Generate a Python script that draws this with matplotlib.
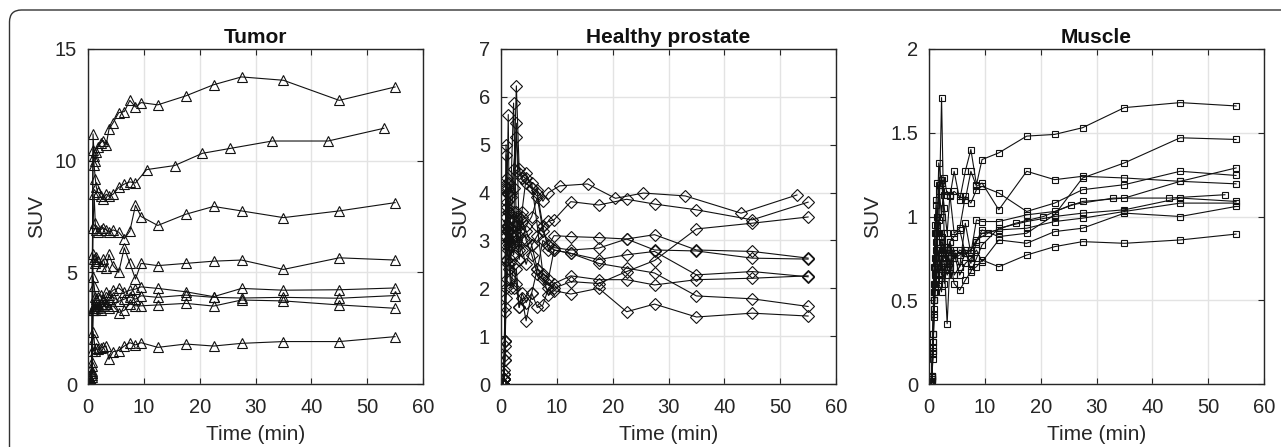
import matplotlib
matplotlib.use("Agg")
import matplotlib.pyplot as plt
from matplotlib.patches import FancyBboxPatch

plt.rcParams['font.family'] = ['Liberation Sans', 'DejaVu Sans']

# frame mid-times (min): main protocol and one shifted protocol
t_main = [0.1, 0.3, 0.5, 0.7, 0.9, 1.1, 1.3, 1.5, 1.75, 2.25, 2.75, 3.25, 3.75,
          4.5, 5.5, 6.5, 7.5, 8.5, 9.5, 12.5, 17.5, 22.5, 27.5, 35, 45, 55]
t_alt = [0.1, 0.3, 0.5, 0.7, 0.9, 1.1, 1.3, 1.5, 1.75, 2.25, 2.75, 3.25, 3.75,
         4.5, 5.5, 6.5, 7.5, 8.5, 10.5, 15.5, 20.5, 25.5, 33, 43, 53]

# Tumor SUV curves
tumor_1 = [0, 0, 0.2, 1.5, 11.2, 10.2, 10.0, 10.4, 10.6, 10.8, 10.9, 10.7, 11.4,
           11.7, 12.15, 12.2, 12.7, 12.4, 12.6, 12.5, 12.9, 13.4, 13.75, 13.6, 12.7, 13.3]
tumor_2 = [0, 0, 0.1, 1.0, 10.5, 9.8, 9.2, 8.8, 8.6, 8.4, 8.3, 8.5, 8.4,
           8.5, 8.8, 8.95, 9.05, 9.0, 9.6, 9.78, 10.33, 10.55, 10.88, 10.88, 11.45]  # t_alt
tumor_3 = [0, 0, 0.1, 0.8, 7.0, 8.5, 7.2, 6.9, 6.8, 6.9, 7.0, 6.9, 6.8,
           6.9, 6.8, 6.5, 6.85, 8.0, 7.5, 7.1, 7.6, 7.95, 7.75, 7.45, 7.75, 8.12]
tumor_4 = [0, 0, 0.1, 0.6, 5.8, 5.6, 5.4, 5.7, 5.5, 5.3, 5.6, 5.2, 5.8,
           5.3, 5.0, 6.1, 5.4, 4.7, 5.4, 5.3, 5.4, 5.5, 5.55, 5.13, 5.65, 5.55]
tumor_5 = [0, 0, 0.1, 0.5, 4.8, 4.4, 3.9, 3.8, 3.9, 4.0, 3.8, 4.1, 4.0,
           4.2, 4.3, 4.1, 4.2, 4.25, 4.35, 4.28, 4.13, 3.91, 4.28, 4.2, 4.22, 4.3]
tumor_6 = [0, 0, 0.05, 0.4, 3.3, 3.5, 3.6, 3.4, 3.5, 3.6, 3.7, 3.6, 3.8,
           3.9, 3.7, 3.8, 3.9, 3.8, 3.95, 3.88, 3.98, 3.88, 3.85, 3.88, 3.84, 3.96]
tumor_7 = [0, 0, 0.1, 0.5, 3.3, 3.4, 3.3, 3.5, 3.4, 3.3, 3.5, 3.6, 3.4,
           3.5, 3.2, 3.3, 3.6, 3.5, 3.5, 3.54, 3.61, 3.49, 3.76, 3.72, 3.54, 3.39]
tumor_8 = [0, 0, 0.05, 0.3, 2.35, 2.0, 1.5, 1.6, 1.55, 1.6, 1.65, 1.7, 1.1,
           1.45, 1.5, 1.7, 1.85, 1.75, 1.85, 1.64, 1.79, 1.7, 1.82, 1.9, 1.9, 2.12]

# Healthy prostate SUV curves
prost_1 = [0, 0, 0.3, 1.6, 4.1, 4.3, 4.0, 3.6, 3.9, 4.5, 5.17, 4.4, 4.3,
           4.4, 4.1, 4.05, 3.82, 4.0, 4.14, 4.18, 3.88, 3.99, 3.93, 3.57, 3.95]  # t_alt
prost_2 = [0, 0, 0.1, 0.9, 3.1, 3.7, 4.1, 3.0, 2.6, 3.3, 3.6, 2.9, 3.4,
           3.2, 2.9, 3.1, 3.3, 3.4, 3.43, 3.81, 3.74, 3.86, 3.76, 3.64, 3.43, 3.80]
prost_3 = [0, 0, 0.2, 1.5, 3.5, 4.2, 5.63, 3.2, 2.9, 3.6, 3.1, 2.8, 3.5,
           3.0, 2.7, 2.3, 2.2, 2.1, 2.0, 2.14, 2.10, 2.35, 2.58, 3.24, 3.36, 3.49]
prost_4 = [0, 0, 0.1, 0.8, 2.6, 3.2, 3.6, 4.2, 4.0, 5.87, 3.3, 2.6, 3.0,
           3.3, 3.5, 3.9, 3.2, 2.9, 3.1, 3.08, 3.06, 3.03, 3.12, 2.80, 2.77, 2.63]
prost_5 = [0, 0, 0.1, 0.5, 2.0, 2.6, 3.0, 3.3, 3.5, 4.1, 6.23, 4.5, 4.3,
           4.2, 4.1, 4.0, 3.3, 2.8, 2.85, 2.80, 2.84, 3.03, 2.80, 2.78, 2.63, 2.61]
prost_6 = [0, 0, 0.2, 0.9, 4.79, 3.8, 3.3, 2.9, 3.1, 2.7, 3.0, 3.5, 2.8,
           2.5, 2.9, 2.4, 3.0, 2.9, 2.8, 2.73, 2.60, 2.70, 2.77, 2.28, 2.35, 2.24]
prost_7 = [0, 0, 0.1, 0.5, 1.8, 2.2, 2.5, 2.9, 2.2, 2.0, 2.4, 1.6, 1.8,
           1.32, 1.9, 1.6, 1.65, 2.0, 2.1, 2.26, 2.18, 2.18, 2.07, 2.18, 2.21, 2.26]
prost_8 = [0, 0, 0.1, 0.6, 2.9, 3.3, 2.8, 3.4, 3.0, 3.2, 5.45, 3.2, 3.6,
           4.3, 4.2, 3.3, 2.3, 2.2, 2.8, 2.73, 2.52, 2.42, 2.32, 1.84, 1.78, 1.62]
prost_9 = [0, 0, 0.1, 0.9, 5.0, 4.0, 3.2, 2.4, 2.0, 2.5, 2.1, 1.6, 1.9,
           1.7, 1.9, 2.4, 2.25, 1.85, 1.95, 1.88, 2.00, 1.51, 1.67, 1.40, 1.48, 1.42]

# Muscle SUV curves
musc_1 = [0, 0, 0.05, 0.3, 0.6, 0.9, 1.1, 1.2, 1.15, 1.22, 1.13, 1.15, 1.12,
          1.27, 1.1, 1.27, 1.4, 1.19, 1.34, 1.38, 1.48, 1.49, 1.53, 1.65, 1.68, 1.66]
musc_2 = [0, 0, 0.03, 0.2, 0.5, 0.7, 0.8, 0.95, 0.9, 1.71, 0.8, 0.7, 0.85,
          0.75, 0.8, 0.78, 0.8, 0.85, 0.92, 0.88, 0.90, 1.01, 1.23, 1.32, 1.47, 1.46]
musc_3 = [0, 0, 0.05, 0.25, 0.55, 0.75, 0.9, 1.0, 1.32, 1.2, 1.05, 0.9, 1.13,
          1.15, 1.12, 1.1, 1.27, 1.18, 1.2, 1.04, 1.27, 1.22, 1.24, 1.23, 1.21, 1.195]
musc_4 = [0, 0, 0.03, 0.3, 0.7, 0.95, 1.07, 0.8, 1.19, 1.0, 1.23, 1.13, 1.13,
          0.9, 0.93, 1.12, 1.08, 1.16, 1.18, 1.14, 1.03, 1.08, 1.16, 1.19, 1.27, 1.245]
musc_5 = [0, 0, 0.02, 0.2, 0.45, 0.6, 0.72, 0.8, 0.75, 0.85, 0.82, 0.7, 0.8,
          0.65, 0.7, 0.96, 0.78, 0.98, 0.97, 0.97, 1.01, 1.03, 1.09, 1.11, 1.21, 1.29]
musc_6 = [0, 0, 0.04, 0.25, 0.5, 0.65, 0.75, 0.85, 0.6, 0.55, 0.9, 0.68, 0.75,
          0.6, 0.56, 0.62, 0.67, 0.75, 0.83, 0.93, 0.97, 1.00, 1.02, 1.04, 1.11, 1.09]
musc_7 = [0, 0, 0.05, 0.3, 0.55, 0.7, 0.62, 0.72, 0.8, 0.65, 0.7, 0.36, 0.72,
          0.8, 0.7, 0.78, 0.72, 0.85, 0.9, 0.92, 0.93, 0.97, 0.99, 1.03, 1.08, 1.08]
musc_8 = [0, 0, 0.03, 0.15, 0.4, 0.55, 0.65, 0.7, 0.66, 0.75, 0.6, 0.82, 0.7,
          0.78, 0.65, 0.72, 0.75, 0.8, 0.73, 0.86, 0.84, 0.91, 0.93, 1.02, 1.00, 1.06]
musc_9 = [0, 0, 0.02, 0.18, 0.42, 0.58, 0.66, 0.7, 0.62, 0.78, 0.72, 0.65, 0.7,
          0.75, 0.77, 0.8, 0.68, 0.7, 0.74, 0.70, 0.77, 0.82, 0.85, 0.84, 0.86, 0.895]
musc_10 = [0, 0, 0.04, 0.22, 0.5, 0.66, 0.85, 0.9, 0.98, 0.88, 0.75, 0.8, 0.85,
           0.88, 0.92, 0.78, 0.8, 0.86, 0.90, 0.96, 1.00, 1.07, 1.11, 1.11, 1.13]  # t_alt

panels = [
    ("Tumor", '^', 7, 15, [0, 5, 10, 15],
     [(t_main, tumor_1), (t_alt, tumor_2), (t_main, tumor_3), (t_main, tumor_4),
      (t_main, tumor_5), (t_main, tumor_6), (t_main, tumor_7), (t_main, tumor_8)]),
    ("Healthy prostate", 'D', 6, 7, [0, 1, 2, 3, 4, 5, 6, 7],
     [(t_alt, prost_1), (t_main, prost_2), (t_main, prost_3), (t_main, prost_4),
      (t_main, prost_5), (t_main, prost_6), (t_main, prost_7), (t_main, prost_8),
      (t_main, prost_9)]),
    ("Muscle", 's', 5, 2, [0, 0.5, 1, 1.5, 2],
     [(t_main, musc_1), (t_main, musc_2), (t_main, musc_3), (t_main, musc_4),
      (t_main, musc_5), (t_main, musc_6), (t_main, musc_7), (t_main, musc_8),
      (t_main, musc_9), (t_alt, musc_10)]),
]
ytick_labels = [["0", "5", "10", "15"],
                ["0", "1", "2", "3", "4", "5", "6", "7"],
                ["0", "0.5", "1", "1.5", "2"]]

W, H = 1281, 447
fig = plt.figure(figsize=(W / 100, H / 100), dpi=100)

# rounded outer frame
frame = FancyBboxPatch((0.095, -1.0), 14, 5.37, boxstyle="round,pad=0,rounding_size=0.12",
                       transform=fig.dpi_scale_trans, fill=False, ec='#333333', lw=1.0)
fig.patches.append(frame)

lefts = [88, 501, 929]
gray = '#262626'
for (title, mk, ms, ymax, yt, curves), left, ylab in zip(panels, lefts, ytick_labels):
    ax = fig.add_axes([left / W, (H - 384) / H, 335 / W, 335 / H])
    for t, v in curves:
        ax.plot(t, v, color='#111111', lw=0.8, marker=mk, ms=ms, mfc='none',
                mec='#111111', mew=0.8)
    ax.set_xlim(0, 60)
    ax.set_ylim(0, ymax)
    ax.set_xticks([0, 10, 20, 30, 40, 50, 60])
    ax.set_yticks(yt)
    ax.set_yticklabels(ylab)
    ax.grid(True, color='#e3e3e3', lw=1.0)
    ax.set_axisbelow(True)
    ax.tick_params(direction='in', top=True, right=True, length=4, width=0.8,
                   colors=gray, labelsize=14.5)
    ax.tick_params(axis='x', pad=10)
    ax.tick_params(axis='y', pad=8)
    for s in ax.spines.values():
        s.set_color(gray)
        s.set_linewidth(1.0)
    ax.set_title(title, fontsize=15, fontweight='bold', color='#111111', pad=4)
    ax.set_xlabel('Time (min)', fontsize=15, color=gray, labelpad=6)
    ax.set_ylabel('SUV', fontsize=15, color=gray, labelpad=6)

fig.savefig('out.png', dpi=100)
